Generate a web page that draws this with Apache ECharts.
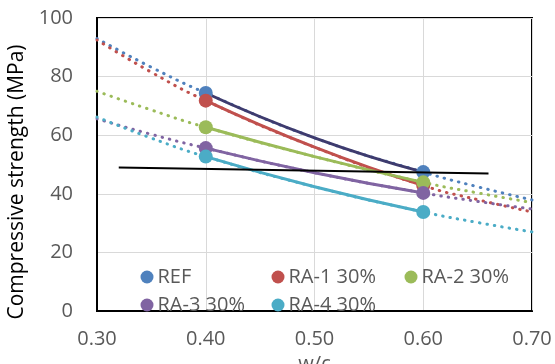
<!DOCTYPE html>
<html>
<head>
<meta charset="utf-8">
<script src="https://cdn.jsdelivr.net/npm/echarts@6/dist/echarts.min.js"></script>
<style>
html,body{margin:0;padding:0;background:#fff;}
#c{width:555px;height:364px;}
</style>
</head>
<body>
<div id="c"></div>
<script>
// ---- data ----
var seriesNames = ['REF', 'RA-1 30%', 'RA-2 30%', 'RA-3 30%', 'RA-4 30%'];
var wc = [0.40, 0.60];                       // measured w/c ratios
var REF  = [74.4, 47.4];
var RA1  = [71.8, 42.8];
var RA2  = [62.7, 43.9];
var RA3  = [55.6, 40.3];
var RA4  = [52.7, 33.8];
// fitted curve read at these w/c values (solid part 0.40-0.60)
var curveX = [0.40, 0.50, 0.60];
var REFcurve = [74.4, 59.1, 47.4];
var RA1curve = [71.8, 55.9, 42.8];
var RA2curve = [62.7, 52.7, 43.9];
var RA3curve = [55.6, 47.2, 40.3];
var RA4curve = [52.7, 42.4, 33.8];
// dotted trend lines read at these w/c values
var trendX = [0.30, 0.35, 0.40, 0.50, 0.60, 0.65, 0.70];
var REFtrend = [93.0, 83.2, 74.4, 59.1, 47.4, 42.4, 37.9];
var RA1trend = [92.5, 81.5, 71.8, 55.9, 42.8, 38.0, 33.8];
var RA2trend = [75.0, 68.6, 62.7, 52.7, 43.9, 40.3, 37.0];
var RA3trend = [65.6, 60.3, 55.6, 47.2, 40.3, 37.4, 34.8];
var RA4trend = [66.2, 59.0, 52.7, 42.4, 33.8, 30.2, 27.0];
// black reference line
var refLineX = [0.32, 0.66];
var refLineY = [49.0, 46.9];
// axes
var xTicks = [0.30, 0.40, 0.50, 0.60, 0.70];
var yTicks = [0, 20, 40, 60, 80, 100];

var markerColors = ['#4F81BD', '#C0504D', '#9BBB59', '#8064A2', '#4BACC6'];
var curveColors  = ['#3E3B6E', '#C0504D', '#9BBB59', '#8064A2', '#4BACC6'];
var points = [REF, RA1, RA2, RA3, RA4];
var curves = [REFcurve, RA1curve, RA2curve, RA3curve, RA4curve];
var trends = [REFtrend, RA1trend, RA2trend, RA3trend, RA4trend];

function pairs(xs, ys){ return xs.map(function(x,i){ return [x, ys[i]]; }); }

var FONT = '"Open Sans", sans-serif';
var series = [];
// dotted trend lines
trends.forEach(function(t, i){
  series.push({
    type:'line', data: pairs(trendX, t), smooth: true, symbol:'none', silent:true,
    z: 2,
    lineStyle:{ color: markerColors[i], width: 3, type:[0.5, 7], cap:'round' }
  });
});
// solid curves
curves.forEach(function(c, i){
  series.push({
    type:'line', data: pairs(curveX, c), smooth: true, symbol:'none', silent:true,
    z: 3,
    lineStyle:{ color: curveColors[i], width: 3 }
  });
});
// markers (legend entries)
points.forEach(function(p, i){
  series.push({
    name: seriesNames[i], type:'scatter', data: pairs(wc, p),
    symbol:'circle', symbolSize: 14, z: 4 + i,
    itemStyle:{ color: markerColors[i], opacity: 1 }
  });
});
// black line
series.push({
  type:'line', data: pairs(refLineX, refLineY), symbol:'none', silent:true, z: 20,
  lineStyle:{ color:'#000', width: 2 }
});

var legendCommon = {
  orient:'vertical', top: 262, itemWidth: 13, itemHeight: 13, itemGap: 8,
  icon:'circle', selectedMode:false,
  textStyle:{ color:'#595959', fontSize: 20, fontFamily: FONT, lineHeight: 20, padding:[0,0,0,-1] }
};

var chart = echarts.init(document.getElementById('c'), null, {renderer:'canvas'});
chart.setOption({
  animation:false,
  backgroundColor:'#fff',
  grid:{ left: 97, right: 23, top: 18, bottom: 53, containLabel:false, outerBoundsMode:'none',
         show: true, borderColor:'#000', borderWidth: 2 },
  legend:[
    Object.assign({ left: 135.5, data:[seriesNames[0], seriesNames[3]] }, legendCommon),
    Object.assign({ left: 266.5, data:[seriesNames[1], seriesNames[4]] }, legendCommon),
    Object.assign({ left: 399.5, data:[seriesNames[2]] }, legendCommon)
  ],
  xAxis:{
    type:'value', min: xTicks[0], max: xTicks[xTicks.length-1], interval: 0.1,
    name:'w/c', nameLocation:'middle', nameGap: 32,
    nameTextStyle:{ color:'#595959', fontSize: 20, fontFamily: FONT },
    axisLine:{ show:true, lineStyle:{ color:'#000', width: 2 } },
    axisTick:{ show:false },
    axisLabel:{ color:'#595959', fontSize: 20, fontFamily: FONT, margin: 18,
      formatter: function(v){ return v.toFixed(2); } },
    splitLine:{ show:true, lineStyle:{ color:'#D9D9D9', width: 1 } }
  },
  yAxis:{
    type:'value', min: yTicks[0], max: yTicks[yTicks.length-1], interval: 20,
    name:'Compressive strength (MPa)', nameLocation:'middle', nameGap: 64, nameRotate: 90,
    nameTextStyle:{ color:'#000', fontSize: 21, fontFamily: FONT, padding:[0, 35, 0, 0] },
    axisLine:{ show:true, lineStyle:{ color:'#000', width: 2 } },
    axisTick:{ show:false },
    axisLabel:{ color:'#595959', fontSize: 20, fontFamily: FONT, margin: 24 },
    splitLine:{ show:true, lineStyle:{ color:'#D9D9D9', width: 1 } }
  },
  series: series
});
</script>
</body>
</html>
